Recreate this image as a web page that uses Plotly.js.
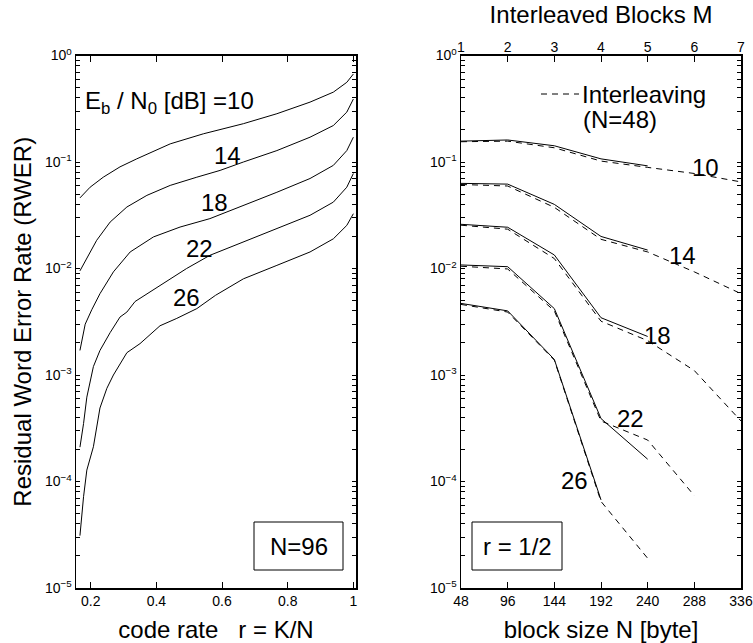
<!DOCTYPE html>
<html>
<head>
<meta charset="utf-8">
<script src="https://cdn.plot.ly/plotly-3.0.1.min.js"></script>
<style>html,body{margin:0;padding:0;background:#fff;}</style>
</head>
<body>
<div id="chart" style="width:753px;height:643px;"></div>
<script>
// ---------- Left panel: RWER vs code rate (N=96) ----------
const r10 = [0.167,0.198,0.238,0.289,0.34,0.442,0.543,0.594,0.665,0.767,0.868,0.939,0.98,1.0];
const v10 = [0.046,0.058,0.072,0.09,0.107,0.148,0.184,0.202,0.229,0.284,0.365,0.453,0.56,0.67];
const r14 = [0.167,0.188,0.218,0.259,0.31,0.371,0.442,0.523,0.594,0.665,0.767,0.868,0.939,0.98,1.0];
const v14 = [0.0095,0.0124,0.0184,0.0273,0.0378,0.0486,0.0603,0.072,0.0834,0.1,0.128,0.171,0.22,0.294,0.39];
const r18 = [0.167,0.183,0.203,0.228,0.269,0.32,0.391,0.472,0.563,0.665,0.767,0.868,0.939,0.98,1.0];
const v18 = [0.0017,0.003,0.0041,0.0058,0.0093,0.0143,0.0198,0.0245,0.0294,0.039,0.052,0.07,0.093,0.128,0.171];
const r22 = [0.167,0.178,0.188,0.208,0.228,0.259,0.289,0.31,0.335,0.386,0.492,0.563,0.665,0.767,0.868,0.939,0.98,1.0];
const v22 = [0.00021,0.00035,0.00062,0.0012,0.0017,0.0025,0.0035,0.0039,0.0049,0.0062,0.01,0.0133,0.0177,0.0237,0.0316,0.042,0.058,0.078];
const r26 = [0.167,0.178,0.188,0.208,0.228,0.249,0.269,0.31,0.35,0.411,0.462,0.523,0.58,0.665,0.767,0.868,0.939,0.98,1.0];
const v26 = [0.000031,0.000072,0.000128,0.000212,0.00049,0.00075,0.001,0.00162,0.00197,0.0029,0.0034,0.0042,0.0056,0.008,0.0107,0.0143,0.019,0.0254,0.0327];

// ---------- Right panel: RWER vs block size N (r = 1/2) ----------
const blockN  = [48,96,144,192,240,288,336];
const blocksM = [1,2,3,4,5,6,7];
// without interleaving (solid)
const s10 = [0.157,0.161,0.142,0.107,0.092];
const s14 = [0.063,0.062,0.040,0.020,0.0149];
const s18 = [0.026,0.0244,0.0134,0.00345,0.0023];
const s22 = [0.0108,0.0104,0.0042,0.00039,0.000162];
const s26 = [0.0047,0.0040,0.0014,0.0000672];
// with interleaving, N=48 (dashed)
const i10 = [0.155,0.157,0.136,0.102,0.089,0.078,0.065];
const i14 = [0.0615,0.0595,0.0375,0.0188,0.0143,0.0093,0.0058];
const i18 = [0.0255,0.0234,0.0124,0.0032,0.0021,0.0011,0.00037];
const i22 = [0.0105,0.0099,0.0040,0.00037,0.000245,0.0000736];
const i26 = [0.0046,0.0039,0.00138,0.000065,0.000019];

const snrLabels = ['10','14','18','22','26'];

// tick labels
const yMajorVals = [1e-5,1e-4,1e-3,1e-2,1e-1,1];
const yMajorText = ['10<sup>−5</sup>','10<sup>−4</sup>','10<sup>−3</sup>','10<sup>−2</sup>','10<sup>−1</sup>','10<sup>0</sup>'];
const xTickVals = [0.2,0.4,0.6,0.8,1];
const xTickText = ['0.2','0.4','0.6','0.8','1'];

// log-axis ticks: decades labelled, 2..9 unlabelled
const yTickVals = yMajorVals.slice();
const yTickText = yMajorText.slice();
for (let e = -5; e < 0; e++) for (let m = 2; m <= 9; m++) { yTickVals.push(m * Math.pow(10, e)); yTickText.push(''); }

const FONT = 'Liberation Sans, Arial, Helvetica, sans-serif';
const lineStyle = {color:'#000', width:1};
const dashStyle = {color:'#000', width:1, dash:'6px,5px'};

const traces = [];
[[r10,v10],[r14,v14],[r18,v18],[r22,v22],[r26,v26]].forEach((c,i)=>{
  traces.push({x:c[0], y:c[1], xaxis:'x', yaxis:'y', mode:'lines', line:lineStyle, name:snrLabels[i]+' dB', hoverinfo:'skip'});
});
[s10,s14,s18,s22,s26].forEach((s,i)=>{
  traces.push({x:blockN.slice(0,s.length), y:s, xaxis:'x2', yaxis:'y2', mode:'lines', line:lineStyle, name:snrLabels[i]+' dB', hoverinfo:'skip'});
});
[i10,i14,i18,i22,i26].forEach((s,i)=>{
  traces.push({x:blockN.slice(0,s.length), y:s, xaxis:'x2', yaxis:'y2', mode:'lines', line:dashStyle, name:'Interleaving '+snrLabels[i]+' dB', hoverinfo:'skip'});
});
// invisible helper trace that instantiates the top axis (Interleaved Blocks M)
traces.push({x:blocksM, y:blocksM.map(()=>null), xaxis:'x3', yaxis:'y2', mode:'lines', line:{width:0}, hoverinfo:'skip', showlegend:false});

const W = 753, H = 643;
const px = v => v / W;
const py = v => 1 - v / H;

const axBase = {
  showline:true, linecolor:'#000', linewidth:1.5, mirror:'ticks',
  ticks:'inside', ticklen:6, tickwidth:1, tickcolor:'#000',
  showgrid:false, zeroline:false, tickfont:{family:FONT, size:14, color:'#000'}
};
const yBase = Object.assign({}, axBase, {
  type:'log', range:[-5,0], tickmode:'array', tickvals:yTickVals, ticktext:yTickText, ticklen:4
});
const titleFont = {family:FONT, size:24, color:'#000'};
const yDom = [py(588), py(55.5)];

const layout = {
  width:W, height:H, margin:{l:0,r:0,t:0,b:0},
  paper_bgcolor:'#fff', plot_bgcolor:'#fff', showlegend:false,
  font:{family:FONT, color:'#000'},
  xaxis: Object.assign({}, axBase, {
    domain:[px(76), px(356)], anchor:'y', range:[0.155,1.008],
    tickmode:'array', tickvals:xTickVals, ticktext:xTickText,
    title:{text:'code rate&nbsp;&nbsp;&nbsp;r = K/N', font:titleFont, standoff:14}
  }),
  yaxis: Object.assign({}, yBase, {
    domain:yDom, anchor:'x',
    title:{text:'Residual Word Error Rate (RWER)', font:titleFont, standoff:6}
  }),
  xaxis2: Object.assign({}, axBase, {
    domain:[px(461), px(741)], anchor:'y2', range:[48,336],
    tickmode:'array', tickvals:blockN,
    title:{text:'block size N [byte]', font:titleFont, standoff:14}
  }),
  xaxis3: Object.assign({}, axBase, {
    overlaying:'x2', side:'top', anchor:'y2', range:[1,7], showline:false, mirror:false,
    tickmode:'array', tickvals:blocksM,
    title:{text:'Interleaved Blocks M', font:titleFont, standoff:8}
  }),
  yaxis2: Object.assign({}, yBase, {domain:yDom, anchor:'x2'}),
  shapes:[
    {type:'rect', xref:'paper', yref:'paper', x0:px(254), x1:px(343), y0:py(570), y1:py(522), line:{color:'#000', width:1}},
    {type:'rect', xref:'paper', yref:'paper', x0:px(472), x1:px(562), y0:py(570), y1:py(522), line:{color:'#000', width:1}},
    {type:'line', xref:'paper', yref:'paper', x0:px(541), x1:px(579), y0:py(94), y1:py(94), line:{color:'#000', width:1, dash:'6px,5px'}}
  ],
  annotations:[]
};

const ann = (text, x, y, xref, yref, xanchor, size) => ({
  text, x, y, xref, yref, xanchor:xanchor||'center', yanchor:'middle', showarrow:false,
  font:{family:FONT, size:size||24, color:'#000'}
});
// left panel curve labels (y in log10 units)
layout.annotations.push(ann('E<sub>b</sub> / N<sub>0</sub> [dB] =10', 0.176, -0.438, 'x', 'y', 'left'));
layout.annotations.push(ann('14', 0.615, -0.938, 'x', 'y'));
layout.annotations.push(ann('18', 0.576, -1.379, 'x', 'y'));
layout.annotations.push(ann('22', 0.530, -1.81, 'x', 'y'));
layout.annotations.push(ann('26', 0.493, -2.27, 'x', 'y'));
// right panel curve labels
layout.annotations.push(ann('10', 299, -1.056, 'x2', 'y2'));
layout.annotations.push(ann('14', 276, -1.88, 'x2', 'y2'));
layout.annotations.push(ann('18', 250, -2.633, 'x2', 'y2'));
layout.annotations.push(ann('22', 222, -3.41, 'x2', 'y2'));
layout.annotations.push(ann('26', 165, -3.99, 'x2', 'y2'));
// legend text and boxes
layout.annotations.push(ann('Interleaving', px(580), py(94), 'paper', 'paper', 'left'));
layout.annotations.push(ann('(N=48)', px(581), py(120), 'paper', 'paper', 'left'));
layout.annotations.push(ann('N=96', px(298.5), py(546), 'paper', 'paper'));
layout.annotations.push(ann('r = 1/2', px(517), py(546), 'paper', 'paper'));

Plotly.newPlot('chart', traces, layout, {displayModeBar:false, staticPlot:true});
</script>
</body>
</html>
